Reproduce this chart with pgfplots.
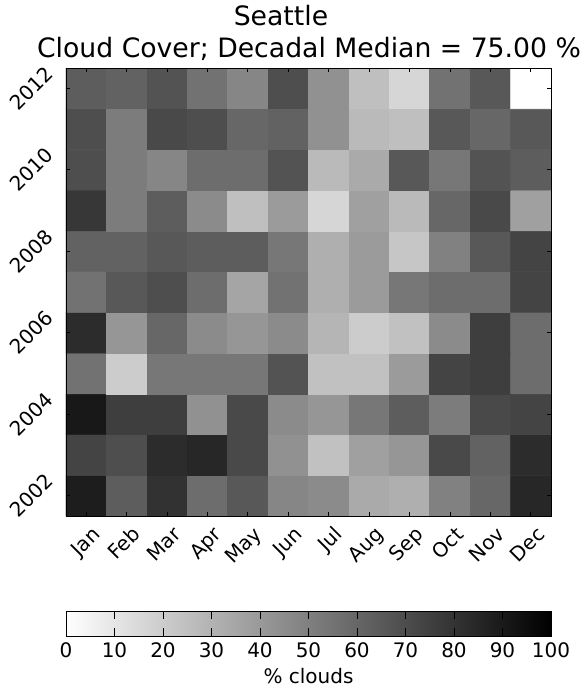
\documentclass[border=0pt]{standalone}
\usepackage{pgfplots}
\pgfplotsset{compat=1.18}
\usepackage{pgfplotstable}
\usepackage{fontspec}
\setmainfont{DejaVu Sans}

\pgfplotstableread{
x y v
0 2002 88
1 2002 63
2 2002 80
3 2002 57
4 2002 65
5 2002 47
6 2002 45
7 2002 33
8 2002 31
9 2002 49
10 2002 59
11 2002 84
0 2003 73
1 2003 69
2 2003 82
3 2003 84
4 2003 71
5 2003 43
6 2003 24
7 2003 37
8 2003 41
9 2003 71
10 2003 61
11 2003 82
0 2004 90
1 2004 75
2 2004 75
3 2004 43
4 2004 71
5 2004 45
6 2004 41
7 2004 53
8 2004 63
9 2004 51
10 2004 71
11 2004 73
0 2005 55
1 2005 20
2 2005 53
3 2005 53
4 2005 53
5 2005 67
6 2005 24
7 2005 24
8 2005 39
9 2005 73
10 2005 75
11 2005 57
0 2006 82
1 2006 41
2 2006 59
3 2006 45
4 2006 41
5 2006 45
6 2006 29
7 2006 20
8 2006 24
9 2006 45
10 2006 75
11 2006 57
0 2007 55
1 2007 65
2 2007 69
3 2007 57
4 2007 35
5 2007 55
6 2007 31
7 2007 39
8 2007 53
9 2007 57
10 2007 57
11 2007 73
0 2008 61
1 2008 61
2 2008 65
3 2008 63
4 2008 63
5 2008 53
6 2008 31
7 2008 39
8 2008 22
9 2008 49
10 2008 65
11 2008 73
0 2009 78
1 2009 51
2 2009 63
3 2009 45
4 2009 25
5 2009 39
6 2009 16
7 2009 37
8 2009 27
9 2009 59
10 2009 71
11 2009 37
0 2010 69
1 2010 51
2 2010 47
3 2010 57
4 2010 57
5 2010 67
6 2010 27
7 2010 33
8 2010 65
9 2010 53
10 2010 67
11 2010 63
0 2011 69
1 2011 51
2 2011 71
3 2011 69
4 2011 59
5 2011 61
6 2011 43
7 2011 27
8 2011 25
9 2011 65
10 2011 59
11 2011 65
0 2012 63
1 2012 61
2 2012 67
3 2012 55
4 2012 47
5 2012 69
6 2012 43
7 2012 25
8 2012 16
9 2012 55
10 2012 65
11 2012 0
}\cloud

\pgfplotstableread{
x y
0 0
100 0

0 1
100 1
}\cbar

\begin{document}
\begin{tikzpicture}
\useasboundingbox (0pt,0pt) rectangle (441pt,-515.25pt);
\pgfplotsset{
  colormap={grayr}{gray(0cm)=(1); gray(1cm)=(0)},
  every axis/.append style={
    /pgf/number format/assume math mode=true,
    tick label style={font=\fontsize{15}{18}\selectfont, inner sep=0pt},
    tick align=inside,
    axis line style={line width=0.6pt},
    every tick/.style={black, line width=0.6pt},
  },
}
\node[anchor=base, font=\fontsize{20}{24}\selectfont] at (210.75pt,-18.75pt) {Seattle};
\node[anchor=base, font=\fontsize{20}{24}\selectfont] at (231.75pt,-42.75pt) {Cloud Cover; Decadal Median = 75.00 \%};

\begin{axis}[
  at={(49.5pt,-387pt)}, anchor=south west,
  scale only axis, width=363.75pt, height=336pt,
  xmin=-0.5, xmax=11.5, ymin=2001.5, ymax=2012.5,
  point meta min=0, point meta max=100,
  xtick={0,1,...,11},
  xticklabels={Jan,Feb,Mar,Apr,May,Jun,Jul,Aug,Sep,Oct,Nov,Dec},
  ytick={2002,2004,2006,2008,2010,2012},
  yticklabels={2002,2004,2006,2008,2010,2012},
  major tick length=3pt,
  xticklabel style={xshift=3.5pt, yshift=-6.75pt, rotate=45, anchor=north east, text height=11pt, text depth=3pt},
  yticklabel style={xshift=-8.25pt, yshift=9.65pt, rotate=45, anchor=south east},
  axis on top,
]
\addplot[matrix plot*, mesh/cols=12, point meta=explicit] table[x=x, y=y, meta=v] {\cloud};
\end{axis}

\begin{axis}[
  at={(49.5pt,-477pt)}, anchor=south west,
  scale only axis, width=363.75pt, height=18.75pt,
  xmin=0, xmax=100, ymin=0, ymax=1,
  point meta min=0, point meta max=100,
  xtick={0,10,...,100}, ytick=\empty,
  major tick length=6pt,
  xticklabel style={yshift=-5pt},
  xlabel={\% clouds},
  xlabel style={font=\fontsize{15}{18}\selectfont, yshift=-4pt},
  axis on top,
]
\addplot[surf, shader=interp, point meta=x] table {\cbar};
\end{axis}
\end{tikzpicture}
\end{document}
